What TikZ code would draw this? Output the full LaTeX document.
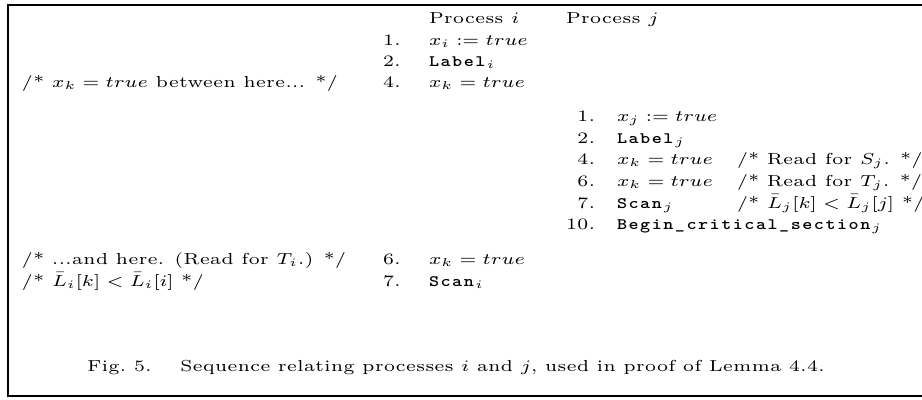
\documentclass[tikz,border=0pt]{standalone}
\usepackage{graphicx}
\usepackage{fontspec}
\setmainfont{lmroman7-regular.otf}[LetterSpace=2.5,ItalicFont=lmroman7-italic.otf]
\setmonofont{lmmonolt10-bold.otf}[LetterSpace=8]
% widened setting used for every line of the figure
\newcommand{\widetxt}[1]{\scalebox{1.2}[1]{#1}}
\begin{document}
\begin{tikzpicture}[x=0.4386pt,y=-0.4386pt,
  every node/.style={inner sep=0pt,outer sep=0pt,font=\fontsize{7}{9}\selectfont},
  txt/.style={anchor=base west},
  num/.style={anchor=base east},
  frameline/.style={line width=0.85pt}]
\useasboundingbox (0,0) rectangle (922,399);
% frame (open on the right)
\draw[frameline] (930,5) -- (8,5) -- (8,396) -- (930,396);
% column headers
\node[txt] (hi) at (429,23) {\widetxt{Process $i$}};
\node[txt] (hj) at (566,23) {\widetxt{Process $j$}};
% process i, first part
\node[txt] (ni1) at (383,45) {\widetxt{1.}};
\node[txt] (si1) at (429,45) {\widetxt{$x_i := true$}};
\node[txt] (ni2) at (383,66) {\widetxt{2.}};
\node[txt] (si2) at (429,66) {\widetxt{\texttt{Label}$_i$}};
\node[txt] (ci4) at (22,87) {\widetxt{/* $x_k = true$ between here... */}};
\node[txt] (ni4) at (383,87) {\widetxt{4.}};
\node[txt] (si4) at (429,87) {\widetxt{$x_k = true$}};
% process j
\node[num] (nj1) at (595,121) {\widetxt{1.}};
\node[txt] (sj1) at (617,121) {\widetxt{$x_j := true$}};
\node[num] (nj2) at (595,143) {\widetxt{2.}};
\node[txt] (sj2) at (617,143) {\widetxt{\texttt{Label}$_j$}};
\node[num] (nj4) at (595,164) {\widetxt{4.}};
\node[txt] (sj4) at (617,164) {\widetxt{$x_k = true$}};
\node[txt] (cj4) at (737,164) {\widetxt{/* Read for $S_j$. */}};
\node[num] (nj6) at (595,186) {\widetxt{6.}};
\node[txt] (sj6) at (617,186) {\widetxt{$x_k = true$}};
\node[txt] (cj6) at (737,186) {\widetxt{/* Read for $T_j$. */}};
\node[num] (nj7) at (595,208) {\widetxt{7.}};
\node[txt] (sj7) at (617,208) {\widetxt{\texttt{Scan}$_j$}};
\node[txt] (cj7) at (737,208) {\widetxt{/* $\bar{L}_j[k] < \bar{L}_j[j]$ */}};
\node[num] (nj10) at (595,229) {\widetxt{10.}};
\node[txt] (sj10) at (617,229) {\widetxt{\texttt{Begin\_critical\_section}$_j$}};
% process i, second part
\node[txt] (ci6) at (22,264) {\widetxt{/* ...and here. (Read for $T_i$.) */}};
\node[txt] (ni6) at (383,264) {\widetxt{6.}};
\node[txt] (si6) at (429,264) {\widetxt{$x_k = true$}};
\node[txt] (ci7) at (22,286) {\widetxt{/* $\bar{L}_i[k] < \bar{L}_i[i]$ */}};
\node[txt] (ni7) at (383,286) {\widetxt{7.}};
\node[txt] (si7) at (429,286) {\widetxt{\texttt{Scan}$_i$}};
% caption
\node[anchor=base] (cap) at (456,371) {\widetxt{Fig.~5.\hspace{1.5em}Sequence relating processes $i$ and $j$, used in proof of Lemma 4.4.}};
\end{tikzpicture}
\end{document}
